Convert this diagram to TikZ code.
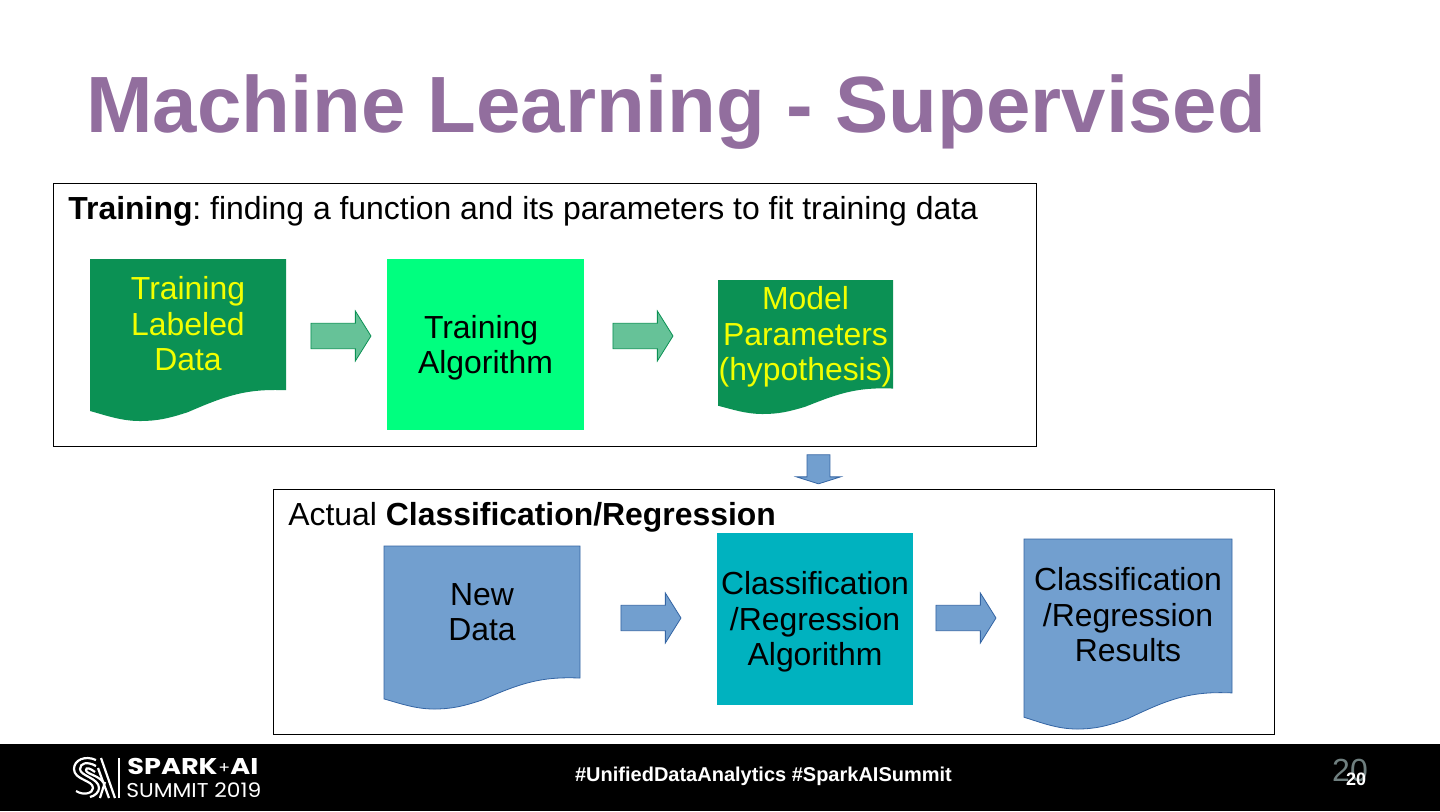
\documentclass[tikz,border=0pt]{standalone}
\usepackage{fontspec}
\setmainfont{Liberation Sans}
\newfontfamily\logofont[FakeStretch=1.19]{Poppins}
\newfontfamily\logosub[FakeStretch=1.09]{Poppins}
\frenchspacing
\usetikzlibrary{shapes.arrows}
\definecolor{sstitle}{HTML}{926E9E}
\definecolor{ssgreen}{HTML}{0B9154}
\definecolor{ssspring}{HTML}{00FF7F}
\definecolor{ssteal}{HTML}{00B2BF}
\definecolor{ssblue}{HTML}{729FCF}
\definecolor{ssblueline}{HTML}{3465A4}
\definecolor{ssmint}{HTML}{66C298}
\definecolor{ssyellow}{HTML}{F2FF00}
\definecolor{ssgrey}{HTML}{6F7F7F}
\tikzset{
  frame/.style={draw=black,line width=.5pt,fill=white,anchor=north west,inner sep=0pt,outer sep=0pt},
  bodytxt/.style={align=center,inner sep=0pt,font=\fontsize{15.95}{17.75}\selectfont},
  algo/.style={inner sep=0pt,outer sep=0pt},
  greenarrow/.style={single arrow,draw=ssgreen,fill=ssmint,line width=.4pt,minimum height=30pt,
              minimum width=25pt,inner xsep=0pt,inner ysep=6pt,single arrow head extend=6pt,
              single arrow tip angle=116},
  bluearrow/.style={greenarrow,draw=ssblueline,fill=ssblue},
  head/.style={anchor=base west,inner sep=0pt,font=\fontsize{15.95}{17.75}\selectfont},
  foot/.style={anchor=base,inner sep=0pt,text=white},
  logoline/.style={draw=white,line width=1.1pt,line cap=butt},
}
% wave document: name, x, y, w, h, shape options, text options, text y, text
\newcommand{\wavedoc}[9]{%
  \begin{scope}[shift={(#2,#3)},x=#4*.5pt,y=-#5*.5pt]
    \path[#6] (0,0) -- (1,0) -- (1,.81)
      .. controls (.80,.80) and (.70,.84) .. (.5,.945)
      .. controls (.40,.985) and (.34,1) .. (.255,1)
      .. controls (.16,1) and (.08,.965) .. (0,.938) -- cycle;
  \end{scope}
  \node[bodytxt,#7] (#1) at ({#2+.5*#4},#8) {#9};
}
\begin{document}
\begin{tikzpicture}[x=.5pt,y=-.5pt]
    \useasboundingbox (0,0) rectangle (1440,811);
    \fill[white] (0,0) rectangle (1440,811);
    \fill[black] (0,744) rectangle (1440,811);
    \node[anchor=base west,inner sep=0pt,text=sstitle,font=\fontsize{39.9}{48}\selectfont\bfseries] (title) at (86,132) {Machine Learning - Supervised};

    % training
    \node[frame,minimum width=491.5pt,minimum height=131.5pt] (train) at (53.5,183.5) {};
    \node[head] (trainhead) at (68,219) {\textbf{Training}: finding a function and its parameters to fit training data};
    \wavedoc{tdata}{90}{259}{196}{162}{fill=ssgreen}{text=ssyellow}{324}{Training\\Labeled\\Data}
    \node[algo,fill=ssspring,minimum width=98.5pt,minimum height=85.5pt,
          label={[bodytxt,yshift=-1.5pt]center:{\mbox{Training~}\\Algorithm}}] (talgo) at (485.5,344.5) {};
    \wavedoc{tmodel}{718}{280}{175}{134}{fill=ssgreen}{text=ssyellow}{337}{Model\\Parameters\\(hypothesis)}
    \node[greenarrow] (ta1) at (337,336) {};
    \node[greenarrow] (ta2) at (639,336) {};

    \node[bluearrow,rotate=-90,minimum height=14.5pt,minimum width=22pt,inner ysep=5.25pt,
          single arrow head extend=5pt,single arrow tip angle=145] (down) at (818.5,467.5) {};

    % classification
    \node[frame,minimum width=500.5pt,minimum height=122.5pt] (pred) at (273.5,489.5) {};
    \node[head] (predhead) at (288,525) {Actual \textbf{Classification/Regression}};
    \wavedoc{ndata}{384}{546}{196}{163}{fill=ssblue,draw=ssblueline,line width=.4pt}{}{612}{New\\Data}
    \node[algo,fill=ssteal,minimum width=98pt,minimum height=86pt,
          label={[bodytxt,yshift=-1.5pt]center:{Classification\\/Regression\\Algorithm}}] (calgo) at (815,619) {};
    \wavedoc{cres}{1024}{539}{208}{190}{fill=ssblue,draw=ssblueline,line width=.4pt}{}{615}{Classification\\/Regression\\Results}
    \node[bluearrow] (ca1) at (647,618) {};
    \node[bluearrow] (ca2) at (962,618) {};

    % footer
    \node[foot,font=\fontsize{10}{12}\selectfont\bfseries] (tag) at (763.5,781) {\#UnifiedDataAnalytics \#SparkAISummit};
    \node[foot,text=ssgrey,font=\fontsize{16}{18}\selectfont] (pagea) at (1350,781) {20};
    \node[foot,font=\fontsize{9}{11}\selectfont\bfseries] (pageb) at (1356,785) {20};

    % logo
    \node[foot,anchor=base west,font=\logofont\fontsize{11.4}{14}\selectfont\bfseries] (spark) at (127,774.5) {SPARK};
    \node[foot,anchor=base west,font=\logosub\fontsize{8}{10}\selectfont] (plus) at (218,773) {+};
    \node[foot,anchor=base west,font=\logofont\fontsize{11.4}{14}\selectfont\bfseries] (ai) at (230,774.5) {AI};
    \node[foot,anchor=base west,font=\logosub\fontsize{10}{12}\selectfont] (summit) at (126,797.5) {SUMMIT 2019};
    \draw[logoline] (96,760) .. controls (85,755) and (74,760) .. (74,769) .. controls (74,780) and (93,780) .. (93,788) .. controls (93,793) and (84,796) .. (76,791);
    \draw[logoline] (96,766) .. controls (87,761) and (80,763) .. (80,769) .. controls (80,776) and (99,778) .. (99,788) .. controls (99,792) and (95,796) .. (90,797);
    \draw[logoline] (95,772) .. controls (90,768) and (86,767) .. (86,770) .. controls (86,774) and (98,775) .. (103,782);
    \draw[logoline] (101,758) -- (115,798);
    \draw[logoline] (98,768) -- (109,798);
    \draw[logoline] (105,782) -- (100,798);
    \draw[logoline] (119,758) -- (119,798);
  \end{tikzpicture}
\end{document}
